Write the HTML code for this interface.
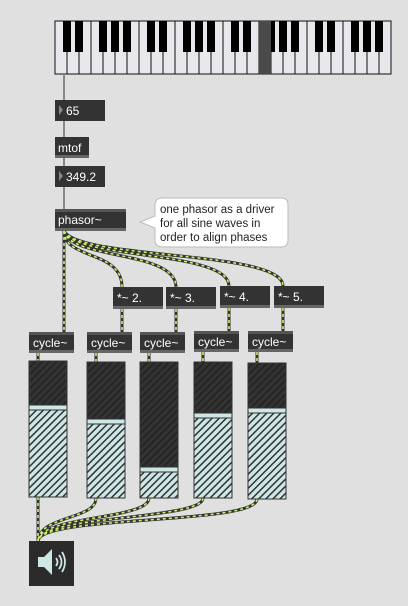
<!DOCTYPE html><html><head><style>
body{margin:0;background:#e0e0e0;width:408px;height:601px;overflow:hidden;font-family:"Liberation Sans",sans-serif}
</style></head><body>
<svg width="408" height="601" xmlns="http://www.w3.org/2000/svg" font-family="Liberation Sans, sans-serif">
<defs>
<pattern id="h1" width="5" height="5" patternUnits="userSpaceOnUse" patternTransform="rotate(45)"><rect width="5" height="5" fill="#333"/><rect width="1.5" height="5" fill="#222"/></pattern>
<pattern id="h2" width="5" height="5" patternUnits="userSpaceOnUse" patternTransform="rotate(45)"><rect width="5" height="5" fill="#cde6e6"/><rect width="1.5" height="5" fill="#333"/></pattern>
</defs>
<rect x="55" y="21" width="336" height="53" fill="#e8e8ec" stroke="#111"/>
<g id="keys"></g>
<rect x="259" y="21" width="12" height="53" fill="#4a4a4a"/>
<line x1="64" y1="74" x2="64" y2="209" stroke="#888" stroke-width="2"/>
<rect x="55" y="100" width="50" height="21" fill="#333"/><polygon points="59,105 59,115 63,110" fill="#888"/><text x="66" y="115" fill="#fff" font-size="12">65</text>
<rect x="55" y="137" width="34" height="21" fill="#333"/><rect x="55" y="155" width="34" height="3" fill="#666"/><text x="58" y="152" fill="#fff" font-size="12">mtof</text>
<rect x="55" y="166" width="50" height="21" fill="#333"/><polygon points="59,171 59,181 63,176" fill="#888"/><text x="66" y="181" fill="#fff" font-size="12">349.2</text>
<rect x="55" y="209" width="71" height="22" fill="#333"/><rect x="55" y="209" width="71" height="3" fill="#555"/><rect x="55" y="228" width="71" height="3" fill="#666"/><text x="58" y="224" fill="#fff" font-size="12">phasor~</text>
<path d="M163,198 H281 Q288,198 288,205 V240 Q288,247 281,247 H163 Q155,247 155,240 V228 L140,222 L155,216 V205 Q155,198 163,198Z" fill="#fff" stroke="#bbb"/>
<text font-size="11.5" fill="#222"><tspan x="160" y="213">one phasor as a driver</tspan><tspan x="160" y="227">for all sine waves in</tspan><tspan x="160" y="241">order to align phases</tspan></text>
<g fill="none" stroke-width="3" stroke="#333">
<path d="M64,231 V332"/>
<path d="M64,231 C64,260 122,250 122,287"/>
<path d="M64,231 C70,260 176,250 176,287"/>
<path d="M64,231 C75,260 229,250 229,286"/>
<path d="M64,231 C80,260 283,250 283,286"/>
<path d="M122,309 V332"/><path d="M176,309 V332"/><path d="M229,308 V331"/><path d="M283,308 V331"/>
<path d="M38,353 V361"/><path d="M96,353 V362"/><path d="M149,353 V362"/><path d="M203,352 V362"/><path d="M257,352 V363"/>
<path d="M38,497 V541"/>
<path d="M96,498 C96,520 40,515 38,541"/>
<path d="M149,498 C149,520 40,515 38,541"/>
<path d="M203,498 C203,520 40,515 38,541"/>
<path d="M257,499 C257,525 40,515 38,541"/>
</g>
<g fill="none" stroke-width="1.6" stroke="#c8f06a" stroke-dasharray="3 3">
<path d="M64,231 V332"/>
<path d="M64,231 C64,260 122,250 122,287"/>
<path d="M64,231 C70,260 176,250 176,287"/>
<path d="M64,231 C75,260 229,250 229,286"/>
<path d="M64,231 C80,260 283,250 283,286"/>
<path d="M122,309 V332"/><path d="M176,309 V332"/><path d="M229,308 V331"/><path d="M283,308 V331"/>
<path d="M38,353 V361"/><path d="M96,353 V362"/><path d="M149,353 V362"/><path d="M203,352 V362"/><path d="M257,352 V363"/>
<path d="M38,497 V541"/>
<path d="M96,498 C96,520 40,515 38,541"/>
<path d="M149,498 C149,520 40,515 38,541"/>
<path d="M203,498 C203,520 40,515 38,541"/>
<path d="M257,499 C257,525 40,515 38,541"/>
</g>
<g font-size="12" fill="#fff">
<rect x="113" y="287" width="50" height="22" fill="#333"/><rect x="113" y="306" width="50" height="3" fill="#666"/><text x="117" y="302">*~ 2.</text>
<rect x="166" y="287" width="50" height="22" fill="#333"/><rect x="166" y="306" width="50" height="3" fill="#666"/><text x="170" y="302">*~ 3.</text>
<rect x="220" y="286" width="50" height="22" fill="#333"/><rect x="220" y="305" width="50" height="3" fill="#666"/><text x="224" y="301">*~ 4.</text>
<rect x="274" y="286" width="50" height="22" fill="#333"/><rect x="274" y="305" width="50" height="3" fill="#666"/><text x="278" y="301">*~ 5.</text>
</g>
<g font-size="12" fill="#fff">
<rect x="29" y="332" width="45" height="21" fill="#333"/><rect x="29" y="332" width="45" height="3" fill="#555"/><rect x="29" y="350" width="45" height="3" fill="#666"/><text x="33" y="347">cycle~</text>
<rect x="87" y="332" width="45" height="21" fill="#333"/><rect x="87" y="332" width="45" height="3" fill="#555"/><rect x="87" y="350" width="45" height="3" fill="#666"/><text x="91" y="347">cycle~</text>
<rect x="140" y="332" width="45" height="21" fill="#333"/><rect x="140" y="332" width="45" height="3" fill="#555"/><rect x="140" y="350" width="45" height="3" fill="#666"/><text x="144" y="347">cycle~</text>
<rect x="194" y="331" width="45" height="21" fill="#333"/><rect x="194" y="331" width="45" height="3" fill="#555"/><rect x="194" y="349" width="45" height="3" fill="#666"/><text x="198" y="346">cycle~</text>
<rect x="248" y="331" width="45" height="21" fill="#333"/><rect x="248" y="331" width="45" height="3" fill="#555"/><rect x="248" y="349" width="45" height="3" fill="#666"/><text x="252" y="346">cycle~</text>
</g>
<g stroke="#333">
<rect x="29" y="361" width="38" height="136" fill="url(#h1)"/><rect x="29" y="407" width="38" height="90" fill="url(#h2)"/><rect x="29" y="405" width="38" height="5" fill="#cde6e6"/>
<rect x="87" y="362" width="38" height="136" fill="url(#h1)"/><rect x="87" y="421" width="38" height="77" fill="url(#h2)"/><rect x="87" y="419" width="38" height="5" fill="#cde6e6"/>
<rect x="140" y="362" width="38" height="136" fill="url(#h1)"/><rect x="140" y="469" width="38" height="29" fill="url(#h2)"/><rect x="140" y="467" width="38" height="5" fill="#cde6e6"/>
<rect x="194" y="362" width="38" height="136" fill="url(#h1)"/><rect x="194" y="415" width="38" height="83" fill="url(#h2)"/><rect x="194" y="413" width="38" height="5" fill="#cde6e6"/>
<rect x="248" y="363" width="38" height="136" fill="url(#h1)"/><rect x="248" y="410" width="38" height="89" fill="url(#h2)"/><rect x="248" y="408" width="38" height="5" fill="#cde6e6"/>
</g>
<rect x="29" y="541" width="45" height="45" fill="#2b2b2b"/>
<polygon points="38,557 44,557 52,549 52,575 44,567 38,567" fill="#cde6e6"/>
<path d="M56,558 Q59,562 56,566 M59,555 Q64,562 59,569 M62,552 Q68,562 62,572" stroke="#cde6e6" stroke-width="1.8" fill="none"/>
</svg>
<script>
var g=document.getElementById('keys'),s='';
for(var i=1;i<28;i++){s+='<line x1="'+(55+12*i)+'" y1="21" x2="'+(55+12*i)+'" y2="74" stroke="#111"/>';}
var b=[1,2,4,5,6];
for(var o=0;o<4;o++)for(var j=0;j<5;j++){var x=55+12*(o*7+b[j])-4;s+='<rect x="'+x+'" y="21" width="8" height="31" fill="#000"/>';}
g.innerHTML=s;
</script>
</body></html>
